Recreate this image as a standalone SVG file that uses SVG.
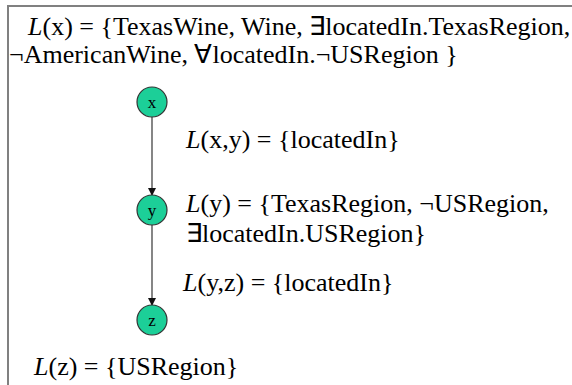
<svg xmlns="http://www.w3.org/2000/svg" width="572" height="385" viewBox="0 0 572 385">
<defs>
<style>
text{font-family:'Liberation Serif','Times New Roman',serif;fill:#000}
.t{font-size:26px}
.n{font-size:17px;text-anchor:middle}
.node{fill:#1ccf98;stroke:#333;stroke-width:1.2}
.edge{stroke:#444;stroke-width:1.3;fill:none}
</style>
<marker id="ah" markerWidth="8" markerHeight="8" refX="7" refY="4" orient="auto" markerUnits="userSpaceOnUse">
<path d="M0,0 L8,4 L0,8 Z" fill="#111"/>
</marker>
</defs>
<rect x="0" y="0" width="572" height="385" fill="#fff"/>
<rect x="8" y="6" width="580" height="400" fill="none" stroke="#808080" stroke-width="2"/>
<text class="t" x="28" y="35"><tspan font-style="italic">L</tspan>(x) = {TexasWine, Wine, ∃locatedIn.TexasRegion,</text>
<text class="t" x="9" y="63">¬AmericanWine,  ∀locatedIn.¬USRegion }</text>
<g id="connectors">
<line class="edge" x1="152" y1="117" x2="152" y2="195" marker-end="url(#ah)"/>
<line class="edge" x1="152" y1="225" x2="152" y2="305" marker-end="url(#ah)"/>
</g>
<g id="node-x"><circle class="node" cx="152" cy="102" r="15"/><text class="n" x="152" y="108">x</text></g>
<g id="node-y"><circle class="node" cx="152" cy="210" r="15"/><text class="n" x="152" y="216">y</text></g>
<g id="node-z"><circle class="node" cx="152" cy="320" r="15"/><text class="n" x="152" y="326">z</text></g>
<text class="t" x="186" y="148"><tspan font-style="italic">L</tspan>(x,y) = {locatedIn}</text>
<text class="t" x="186" y="212"><tspan font-style="italic">L</tspan>(y) = {TexasRegion, ¬USRegion,</text>
<text class="t" x="186" y="242">∃locatedIn.USRegion}</text>
<text class="t" x="183" y="291"><tspan font-style="italic">L</tspan>(y,z) = {locatedIn}</text>
<text class="t" x="34" y="375"><tspan font-style="italic">L</tspan>(z) = {USRegion}</text>
</svg>
